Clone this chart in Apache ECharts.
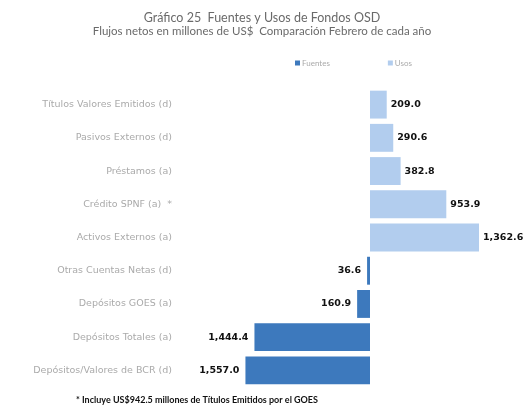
<!DOCTYPE html>
<html>
<head>
<meta charset="utf-8">
<script src="https://cdn.jsdelivr.net/npm/echarts@6/dist/echarts.min.js"></script>
<style>
html,body{margin:0;padding:0;background:#fff;}
#main{width:524px;height:420px;}
</style>
</head>
<body>
<div id="main"></div>
<script>
var categorias = ['Títulos Valores Emitidos (d)', 'Pasivos Externos (d)', 'Préstamos (a)', 'Crédito SPNF (a)  *',
    'Activos Externos (a)', 'Otras Cuentas Netas (d)', 'Depósitos GOES (a)', 'Depósitos Totales (a)',
    'Depósitos/Valores de BCR (d)'];
// fuentes van hacia la izquierda (negativos)
var fuentes = ['-', '-', '-', '-', '-', -36.6, -160.9, -1444.4, -1557.0];
var usos = [209.0, 290.6, 382.8, 953.9, 1362.6, '-', '-', '-', '-'];

function fmt(v){
    return Math.abs(v).toLocaleString('en-US', {minimumFractionDigits: 1, maximumFractionDigits: 1});
}

var myChart = echarts.init(document.getElementById('main'));
option = {
    animation: false,
    title: [{
        text: 'Gráfico 25  Fuentes y Usos de Fondos OSD',
        left: 'center', top: 6,
        textStyle: {fontSize: 12.5, fontWeight: 'normal', color: '#6a6a6a', fontFamily: 'Lato'}
    }, {
        text: 'Flujos netos en millones de US$  Comparación Febrero de cada año',
        left: 'center', top: 20,
        textStyle: {fontSize: 11.5, fontWeight: 'normal', color: '#6a6a6a', fontFamily: 'Lato'}
    }],
    legend: {
        left: 290, top: 54,
        icon: 'rect', itemWidth: 5, itemHeight: 5, itemGap: 58,
        textStyle: {fontSize: 8, color: '#aaa', fontFamily: 'Lato', padding: [0, 0, 0, -3]},
        data: ['Fuentes', 'Usos']
    },
    grid: {left: 231, right: 24, top: 88, bottom: 33},
    xAxis: {
        type: 'value', min: -1737.5, max: 1625,
        axisLine: {show: false}, axisTick: {show: false},
        axisLabel: {show: false}, splitLine: {show: false}
    },
    yAxis: {
        type: 'category', inverse: true, data: categorias,
        axisLine: {show: false, onZero: false}, axisTick: {show: false},
        axisLabel: {margin: 59, fontSize: 9.5, color: '#aaa', fontFamily: 'DejaVu Sans'}
    },
    series: [
        {
            name: 'Fuentes', type: 'bar', stack: 'total', barCategoryGap: '16%',
            itemStyle: {color: '#3d79bd'},
            label: {show: true, position: 'left', distance: 6, fontSize: 9.5, fontWeight: 'bold',
                color: '#111', fontFamily: 'DejaVu Sans', formatter: function(p){ return fmt(p.value); }},
            data: fuentes
        },
        {
            name: 'Usos', type: 'bar', stack: 'total', barCategoryGap: '16%',
            itemStyle: {color: '#b2cdee'},
            label: {show: true, position: 'right', distance: 4, fontSize: 9.5, fontWeight: 'bold',
                color: '#111', fontFamily: 'DejaVu Sans', formatter: function(p){ return fmt(p.value); }},
            data: usos
        }
    ],
    graphic: [{
        type: 'text', left: 76, top: 396,
        style: {text: '* Incluye US$942.5 millones de Títulos Emitidos por el GOES',
            fontSize: 9, fontWeight: 'bold', fill: '#111', fontFamily: 'Lato'}
    }]
};
myChart.setOption(option);
</script>
</body>
</html>
